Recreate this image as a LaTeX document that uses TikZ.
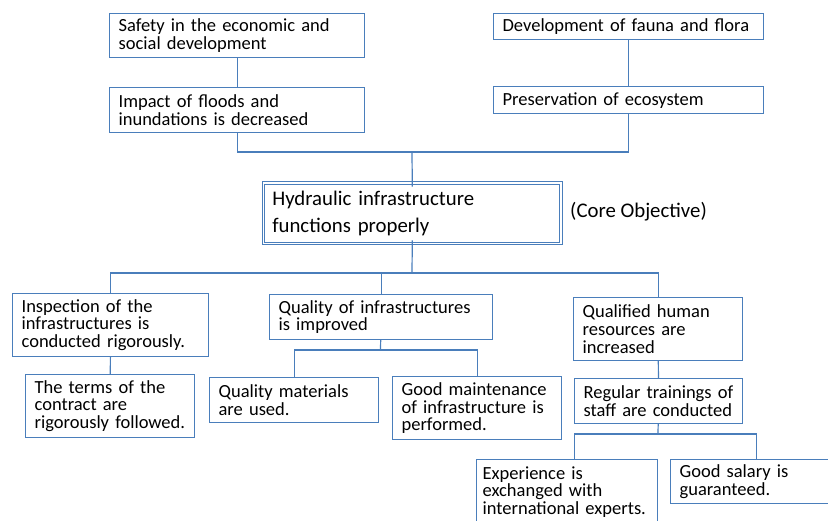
\documentclass[tikz,border=0pt]{standalone}
\usepackage{fontspec}
\setmainfont{Carlito}
\usepackage{xcolor}
\usetikzlibrary{positioning}
\definecolor{boxblue}{RGB}{74,126,187}

\begin{document}
\begin{tikzpicture}[x=1pt, y=-1pt,
  font=\fontsize{18.5}{17.7}\selectfont,
  b/.style={draw=boxblue, line width=1.2pt, anchor=north west, align=left,
    inner xsep=9pt, inner ysep=0pt, text width=#1},
  core/.style={b=#1, line width=1pt, inner xsep=7.5pt,
    font=\fontsize{20.8}{27}\selectfont},
  c/.style={draw=boxblue, line width=1.2pt}]
\useasboundingbox (0,0) rectangle (828,521);
% upper goals
\node[b=237pt, minimum height=44pt] (sa) at (109,13) {Safety in the economic and\\social development};
\node[b=237pt, minimum height=45pt] (im) at (109,87) {Impact of floods and\\inundations is decreased};
\node[b=252pt, minimum height=26pt] (de) at (493,13) {Development of fauna and flora};
\node[b=252pt, minimum height=27pt] (pr) at (493,86) {Preservation of ecosystem};
% core
\node[core=280pt, minimum height=57.4pt] (hy) at (264.3,184.3) {Hydraulic infrastructure\\functions properly};
\draw[c, line width=1pt] ([shift={(-2.3,-2.3)}]hy.north west) rectangle ([shift={(2.3,2.3)}]hy.south east);
\node[anchor=west, inner sep=0pt, font=\fontsize{20.8}{24}\selectfont] (co) at (570,212) {(Core Objective)};
% means
\node[b=178pt, minimum height=63pt] (in) at (12,293) {Inspection of the\\infrastructures is\\conducted rigorously.};
\node[b=151pt, minimum height=63pt] (te) at (25,374) {The terms of the\\contract are\\rigorously followed.};
\node[b=205pt, minimum height=45pt] (qu) at (269,294) {Quality of infrastructures\\is improved};
\node[b=151pt, minimum height=45pt] (qm) at (209,377) {Quality materials\\are used.};
\node[b=151pt, minimum height=63pt] (gm) at (392,376) {Good maintenance\\of infrastructure is\\performed.};
\node[b=151pt, minimum height=63pt] (qh) at (573,297) {Qualified human\\resources are\\increased};
\node[b=150pt, minimum height=45pt] (rt) at (574,378) {Regular trainings of\\staff are conducted};
\node[b=169pt, inner xsep=6pt, minimum height=65pt] (ex) at (476,459) {Experience is\\exchanged with\\international experts.};
\node[b=154pt, minimum height=44pt] (gs) at (670,459) {Good salary is\\guaranteed.};
% junctions
\coordinate (tj) at (412,152);
\coordinate (bj) at (412,273);
\coordinate (qj) at (380.5,350);
\coordinate (rj) at (658,434);
\draw[c] (sa) -- (im);
\draw[c] (de) -- (pr);
\draw[c] (im) |- (tj) -| (pr);
\draw[c] (tj) -- ([yshift=-2.3pt]hy.north);
\draw[c] ([yshift=2.3pt]hy.south) -- (bj);
\draw[c] (in) |- (bj) -| (qh);
\draw[c] (qu) -- (qu |- bj);
\draw[c] (in) -- (te);
\draw[c] (qu) -- (qj);
\draw[c] (qm) |- (qj) -| (gm);
\draw[c] (qh) -- (rt);
\draw[c] (rt) -- (rj);
\draw[c] ([xshift=7.5pt]ex.north) |- (rj) -| (gs.north);
\end{tikzpicture}
\end{document}
